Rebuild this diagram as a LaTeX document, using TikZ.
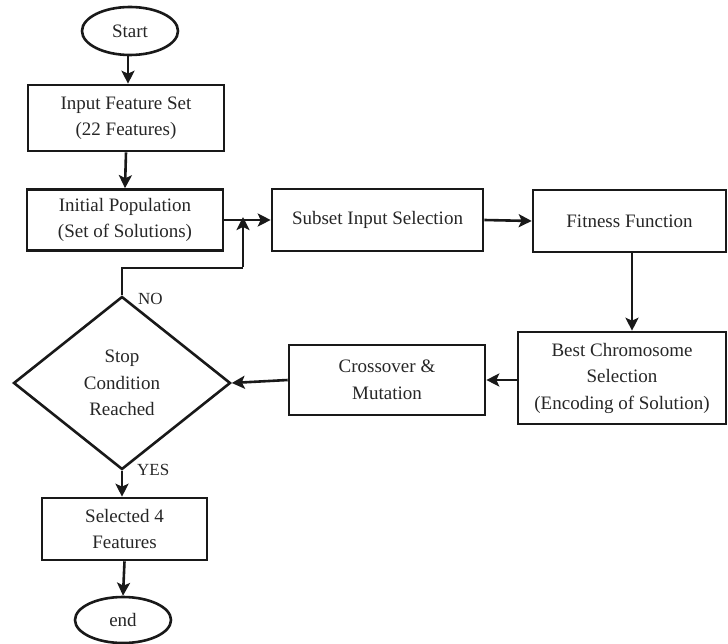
\documentclass[tikz,border=0pt]{standalone}
\usepackage{fontspec}
\setmainfont{Liberation Serif}
\usetikzlibrary{shapes.geometric,arrows.meta}
\begin{document}
\begin{tikzpicture}[x=1pt,y=-1pt,
  every node/.style={font=\fontsize{19}{26.5}\selectfont, text=black!85, align=center},
  box/.style={draw=black!90, line width=2.6pt, rectangle, inner sep=0pt},
  oval/.style={draw=black!90, line width=2.6pt, ellipse, inner sep=0pt},
  decision/.style={draw=black!90, line width=2.6pt, diamond, inner sep=0pt},
  conn/.style={draw=black!90, line width=2.6pt, -{Stealth[length=13pt,width=13pt,inset=3pt]}},
  plain/.style={draw=black!90, line width=2.6pt},
  lbl/.style={font=\fontsize{17}{20}\selectfont, anchor=west, inner sep=0pt}]
\useasboundingbox (0,0) rectangle (728,644);
\node[oval, minimum width=96pt, minimum height=48pt] (start) at (130,31) {Start};
\node[box, minimum width=196pt, minimum height=66pt] (input) at (126,118) {Input Feature Set\\(22 Features)};
\node[box, minimum width=196pt, minimum height=61pt] (init) at (125,220) {Initial Population\\(Set of Solutions)};
\node[box, minimum width=211pt, minimum height=62pt] (subset) at (377.5,220) {Subset Input Selection};
\node[box, minimum width=193pt, minimum height=62pt] (fit) at (629.5,221) {Fitness Function};
\node[box, minimum width=208pt, minimum height=92pt] (best) at (622,378) {Best Chromosome\\Selection\\(Encoding of Solution)};
\node[box, minimum width=196pt, minimum height=70pt] (cross) at (387,380) {Crossover \&\\Mutation};
\node[decision, minimum width=217pt, minimum height=173pt] (stop) at (122,383) {Stop\\Condition\\Reached};
\node[box, minimum width=165pt, minimum height=62pt] (sel) at (124.5,529) {Selected 4\\Features};
\node[oval, minimum width=96pt, minimum height=46pt] (end) at (123,620) {end};
\coordinate (j1) at (243,268);
\coordinate (j0) at (122,268);
\coordinate (m) at (243,220);
\draw[conn] (start.south -| input.north) ++(2,0) -- ([xshift=2pt]input.north);
\draw[conn] (input.south) -- (init.north);
\draw[conn] (init.east) -- (subset.west);
\draw[conn] (subset.east) -- (fit.west);
\draw[conn] ([xshift=2.5pt]fit.south) -- ([xshift=2.5pt]fit.south |- best.north);
\draw[conn] (best.west |- cross.east) -- (cross.east);
\draw[conn] (cross.west) -- (stop.east);
\draw[plain] (stop.north) -- (j0) -- (j1);
\draw[conn] ([yshift=1.3pt]j1) -- ([yshift=3pt]m);
\draw[conn] (stop.south) -- (stop.south |- sel.north);
\draw[conn] (sel.south) -- (end.north);
\node[lbl] (no) at (138,299) {NO};
\node[lbl] (yes) at (137,470) {YES};
\end{tikzpicture}
\end{document}
